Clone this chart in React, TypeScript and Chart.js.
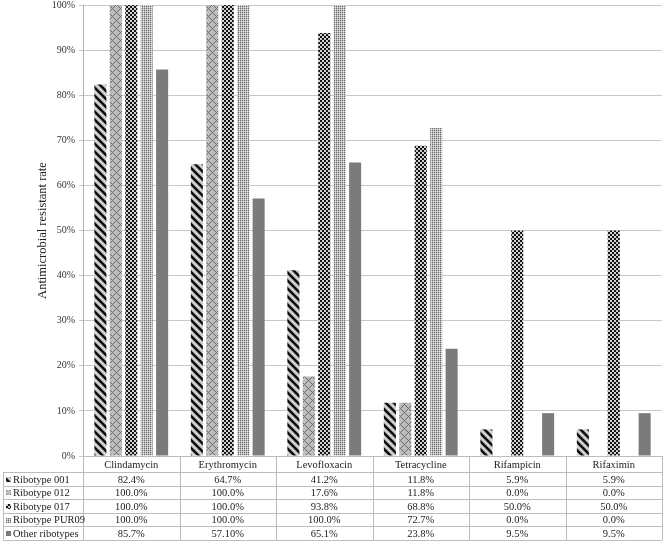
import React, { useEffect, useRef } from 'react';
import { Chart, registerables } from 'chart.js';

Chart.register(...registerables);

const categories = ['Clindamycin', 'Erythromycin', 'Levofloxacin', 'Tetracycline', 'Rifampicin', 'Rifaximin'];
const seriesNames = ['Ribotype 001', 'Ribotype 012', 'Ribotype 017', 'Ribotype PUR09', 'Other ribotypes'];

// table texts as printed; bar values parsed from them
const ribotype001 = ['82.4%', '64.7%', '41.2%', '11.8%', '5.9%', '5.9%'];
const ribotype012 = ['100.0%', '100.0%', '17.6%', '11.8%', '0.0%', '0.0%'];
const ribotype017 = ['100.0%', '100.0%', '93.8%', '68.8%', '50.0%', '50.0%'];
const ribotypePUR09 = ['100.0%', '100.0%', '100.0%', '72.7%', '0.0%', '0.0%'];
const otherRibotypes = ['85.7%', '57.10%', '65.1%', '23.8%', '9.5%', '9.5%'];

const seriesTexts = [ribotype001, ribotype012, ribotype017, ribotypePUR09, otherRibotypes];
const patternKinds = ['stripes', 'diamonds', 'checker', 'dots', 'solid'];

const yMin = 0;
const yMax = 100;
const yStep = 10;
const yTitle = 'Antimicrobial resistant rate';

const FONT = "'Liberation Serif', 'Times New Roman', serif";

function makePattern(kind: string): CanvasPattern | string {
  const c = document.createElement('canvas');
  const size = kind === 'checker' ? 4 : kind === 'dots' ? 2 : 8;
  c.width = size;
  c.height = size;
  const g = c.getContext('2d')!;
  if (kind === 'solid') return '#7b7b7b';
  for (let y = 0; y < size; y++) {
    for (let x = 0; x < size; x++) {
      let col = '#ffffff';
      if (kind === 'stripes') {
        const d = (((y - x) % 8) + 8) % 8;
        col = d < 3 ? '#111111' : d === 3 || d === 7 ? '#8a8a8a' : '#cfcfcf';
      } else if (kind === 'diamonds') {
        const a = (x + y) % 8;
        const b = (((x - y) % 8) + 8) % 8;
        col = a === 0 || b === 0 ? '#6a6a6a' : '#bdbdbd';
      } else if (kind === 'checker') {
        const cx = Math.floor(x / 2);
        const cy = Math.floor(y / 2);
        col = (cx + cy) % 2 === 0 ? '#151515' : '#cfcfcf';
      } else if (kind === 'dots') {
        const m = [['#6a6a6a', '#c8c8c8'], ['#b4b4b4', '#e2e2e2']];
        col = m[y][x];
      }
      g.fillStyle = col;
      g.fillRect(x, y, 1, 1);
    }
  }
  return g.createPattern(c, 'repeat')!;
}

export default function App() {
  const ref = useRef<HTMLCanvasElement>(null);

  useEffect(() => {
    document.body.style.margin = '0';
    const canvas = ref.current!;
    const fills = patternKinds.map(makePattern);

    const tablePlugin = {
      id: 'dataTable',
      afterDraw(chart: any) {
        const ctx = chart.ctx as CanvasRenderingContext2D;
        const area = chart.chartArea;
        const top = Math.round(area.bottom);
        const headerH = 16;
        const rowH = 13.6;
        const left = 3;
        const right = Math.round(area.right);
        const colW = (area.right - area.left) / categories.length;
        const bottom = top + headerH + rowH * seriesNames.length;
        const px = (v: number) => Math.round(v) + 0.5;
        ctx.save();
        ctx.strokeStyle = '#bdbdbd';
        ctx.lineWidth = 1;
        ctx.beginPath();
        ctx.moveTo(area.left, px(top));
        ctx.lineTo(right, px(top));
        for (let i = 0; i <= seriesNames.length; i++) {
          const y = px(top + headerH + i * rowH);
          ctx.moveTo(left, y);
          ctx.lineTo(right, y);
        }
        ctx.moveTo(px(left), top + headerH);
        ctx.lineTo(px(left), px(bottom));
        for (let j = 0; j <= categories.length; j++) {
          const x = px(area.left + j * colW);
          ctx.moveTo(x, top);
          ctx.lineTo(x, px(bottom));
        }
        ctx.stroke();

        ctx.fillStyle = '#222222';
        ctx.font = `10.5px ${FONT}`;
        ctx.textBaseline = 'middle';
        ctx.textAlign = 'center';
        categories.forEach((cat, j) => {
          const cx = chart.scales.x.getPixelForValue(j);
          ctx.fillText(cat, cx, top + headerH / 2 + 1);
        });
        seriesNames.forEach((name, i) => {
          const cy = top + headerH + i * rowH + rowH / 2 + 1;
          ctx.fillStyle = fills[i] as any;
          ctx.fillRect(6, Math.round(cy) - 3, 5, 5);
          ctx.fillStyle = '#222222';
          ctx.textAlign = 'left';
          ctx.fillText(name, 13, cy);
          ctx.textAlign = 'center';
          seriesTexts[i].forEach((t, j) => {
            const cx = chart.scales.x.getPixelForValue(j);
            ctx.fillText(t, cx, cy);
          });
        });
        ctx.restore();
      },
    };

    const chart = new Chart(canvas, {
      type: 'bar',
      data: {
        labels: categories,
        datasets: seriesNames.map((name, i) => ({
          label: name,
          data: seriesTexts[i].map((t) => parseFloat(t)),
          backgroundColor: fills[i] as any,
          borderWidth: 0,
          barPercentage: 0.78,
          categoryPercentage: 0.8,
        })),
      },
      options: {
        responsive: false,
        animation: false,
        layout: { padding: { top: 0, right: 4, left: 0, bottom: 0 } },
        plugins: { legend: { display: false }, tooltip: { enabled: false } },
        scales: {
          x: {
            ticks: { display: false },
            grid: { display: false },
            border: { display: false },
            afterFit: (s: any) => {
              s.height = 89;
            },
          },
          y: {
            min: yMin,
            max: yMax,
            ticks: {
              stepSize: yStep,
              callback: (v: any) => `${v}%`,
              font: { family: FONT, size: 10, lineHeight: 1.0 },
              color: '#333333',
              padding: 4,
            },
            grid: { color: '#c8c8c8', tickLength: 4, lineWidth: 1 },
            border: { color: '#b0b0b0' },
            title: {
              display: true,
              text: yTitle,
              font: { family: FONT, size: 12.5 },
              color: '#222222',
              padding: { top: 35, bottom: 0 },
            },
            afterFit: (s: any) => {
              s.width = 83;
              s.paddingTop = 5;
              s.paddingBottom = 0;
            },
          },
        },
      },
      plugins: [tablePlugin],
    });
    return () => chart.destroy();
  }, []);

  return (
    <div style={{ position: 'fixed', left: 0, top: 0, width: 666, height: 545 }}>
      <canvas ref={ref} width={666} height={545} />
    </div>
  );
}
